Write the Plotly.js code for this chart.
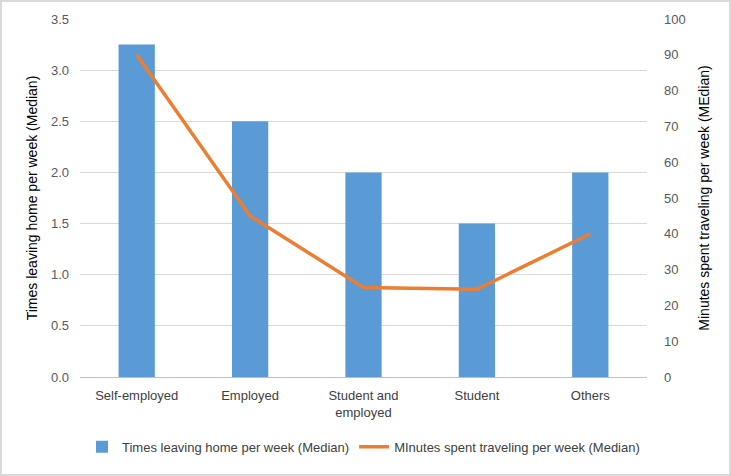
<!DOCTYPE html>
<html>
<head>
<meta charset="utf-8">
<script src="https://cdn.plot.ly/plotly-3.0.1.min.js"></script>
<style>
  body { margin: 0; background: #fff; }
  #wrap { position: relative; width: 731px; height: 476px; }
  #frame { position: absolute; left: 0; top: 0; width: 727px; height: 472px; border: 2px solid #d9d9d9; pointer-events: none; }
</style>
</head>
<body>
<div id="wrap">
  <div id="chart" style="width:731px;height:476px;"></div>
  <div id="frame"></div>
</div>
<script>
const categories = ["Self-employed", "Employed", "Student and<br>employed", "Student", "Others"];
const timesLeaving = [3.25, 2.5, 2.0, 1.5, 2.0];
const minutesTraveling = [90, 45, 25, 24.5, 40];

const fontFam = "Liberation Sans Narrow, Liberation Sans, Arial, sans-serif";

const bars = {
  x: categories,
  y: timesLeaving,
  type: "bar",
  name: "Times leaving home per week (Median)",
  marker: { color: "#5b9bd5" },
  width: 0.32,
  yaxis: "y",
};

const line = {
  x: categories,
  y: minutesTraveling,
  type: "scatter",
  mode: "lines",
  name: "MInutes spent traveling per week (Median)",
  line: { color: "#ed7d31", width: 3.5 },
  yaxis: "y2",
};

const layout = {
  width: 731,
  height: 476,
  margin: { l: 80, r: 84, t: 19, b: 99 },
  paper_bgcolor: "#fff",
  plot_bgcolor: "#fff",
  font: { family: fontFam, size: 13, color: "#595959" },
  showlegend: true,
  legend: {
    orientation: "h",
    x: 0.5, xanchor: "center",
    y: -0.195, yanchor: "middle",
    font: { size: 13, color: "#404040" },
  },
  xaxis: {
    type: "category",
    automargin: false,
    showgrid: false,
    showline: true,
    linecolor: "#bfbfbf",
    ticks: "",
    ticklabelstandoff: 6,
    tickfont: { size: 13, color: "#404040" },
  },
  yaxis: {
    range: [0, 3.5],
    dtick: 0.5,
    tickformat: ".1f",
    automargin: false,
    gridcolor: "#d9d9d9",
    zeroline: false,
    ticks: "",
    ticklabelstandoff: 10,
    title: { text: "Times leaving home per week (Median)", font: { size: 14, color: "#000" }, standoff: 10 },
  },
  yaxis2: {
    overlaying: "y",
    side: "right",
    range: [0, 100],
    dtick: 10,
    automargin: false,
    showgrid: false,
    zeroline: false,
    ticks: "",
    ticklabelstandoff: 16,
    title: { text: "Minutes spent traveling per week (MEdian)", font: { size: 14, color: "#000" }, standoff: 14 },
  },
};

Plotly.newPlot("chart", [bars, line], layout, { displayModeBar: false });
</script>
</body>
</html>
